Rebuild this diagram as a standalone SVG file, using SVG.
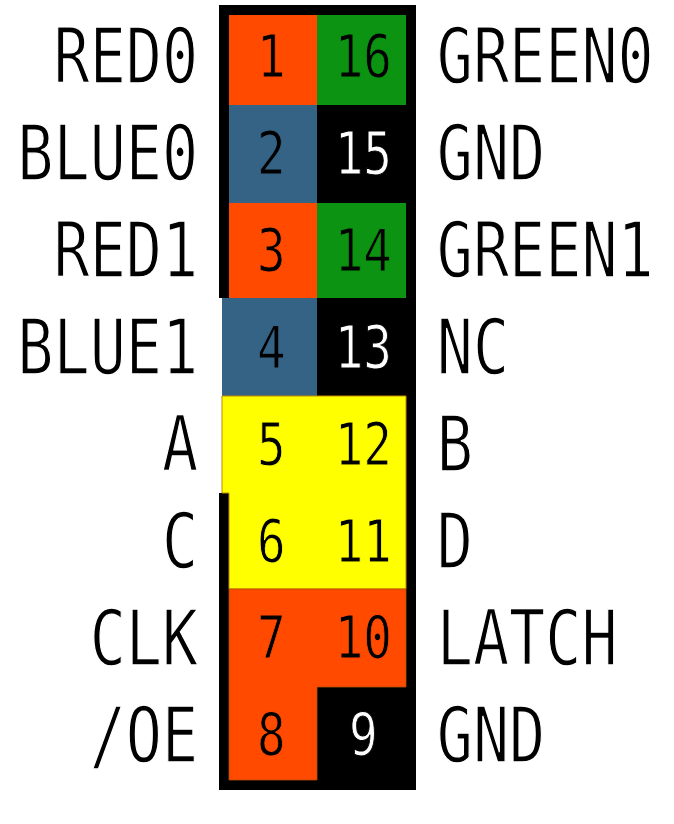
<svg xmlns="http://www.w3.org/2000/svg" width="674" height="824" viewBox="0 0 674 824">
<style>
.lbl{font-family:"DejaVu Sans Mono","Liberation Mono",monospace;font-size:77px;fill:#000;stroke:#fff;stroke-width:1.4px;}
.num{font-family:"DejaVu Sans Mono","Liberation Mono",monospace;font-size:58px;fill:#000;text-anchor:middle;stroke-width:1px;}
.w{fill:#fff;}
.l{text-anchor:end;}
.orange{fill:#ff4a00;}
.green{fill:#0b9311;}
.blue{fill:#356385;}
.yellow{fill:#ffff00;}
.so{stroke:#ff4a00;}
.sg{stroke:#0b9311;}
.sb{stroke:#356385;}
.sy{stroke:#ffff00;}
.sk{stroke:#000;}
</style>
<rect width="674" height="824" fill="#fff"/>
<g id="housing">
<rect x="219" y="5" width="197" height="785" fill="#000"/>
<rect x="218" y="298" width="4" height="195" fill="#fff"/>
</g>
<g id="cells">
<rect class="orange" x="229" y="15" width="88" height="90"/>
<rect class="green" x="317" y="15" width="89" height="90"/>
<rect class="blue" x="229" y="105" width="88" height="98"/>
<rect class="orange" x="229" y="203" width="88" height="95"/>
<rect class="green" x="317" y="203" width="89" height="95"/>
<rect class="blue" x="222" y="298" width="95" height="98"/>
<polygon class="yellow" points="222,396 406,396 406,589 229,589 229,493 222,493" stroke="#c08a00" stroke-width="1"/>
<polygon class="orange" points="229,589 406,589 406,687 317,687 317,780 229,780" stroke="#b05000" stroke-width="0.8"/>
</g>
<g id="numbers" transform="scale(0.82,1)">
<g id="pin1"><text class="num so" x="331" y="77">1</text></g>
<g id="pin16"><text class="num sg" x="443" y="77">16</text></g>
<g id="pin2"><text class="num sb" x="331" y="174">2</text></g>
<g id="pin15"><text class="num w sk" x="443" y="174">15</text></g>
<g id="pin3"><text class="num so" x="331" y="271">3</text></g>
<g id="pin14"><text class="num sg" x="443" y="271">14</text></g>
<g id="pin4"><text class="num sb" x="331" y="368">4</text></g>
<g id="pin13"><text class="num w sk" x="443" y="368">13</text></g>
<g id="pin5"><text class="num sy" x="331" y="465">5</text></g>
<g id="pin12"><text class="num sy" x="443" y="465">12</text></g>
<g id="pin6"><text class="num sy" x="331" y="562">6</text></g>
<g id="pin11"><text class="num sy" x="443" y="562">11</text></g>
<g id="pin7"><text class="num so" x="331" y="658">7</text></g>
<g id="pin10"><text class="num so" x="443" y="658">10</text></g>
<g id="pin8"><text class="num so" x="331" y="755">8</text></g>
<g id="pin9"><text class="num w sk" x="443" y="755">9</text></g>
</g>
<g id="labels-left" transform="scale(0.78,1)">
<text class="lbl l" x="254" y="83">RED0</text>
<text class="lbl l" x="254" y="180">BLUE0</text>
<text class="lbl l" x="254" y="277">RED1</text>
<text class="lbl l" x="254" y="374">BLUE1</text>
<text class="lbl l" x="254" y="471">A</text>
<text class="lbl l" x="254" y="568">C</text>
<text class="lbl l" x="254" y="665">CLK</text>
<text class="lbl l" x="254" y="762">/OE</text>
</g>
<g id="labels-right" transform="scale(0.78,1)">
<text class="lbl" x="560" y="83">GREEN0</text>
<text class="lbl" x="560" y="180">GND</text>
<text class="lbl" x="560" y="277">GREEN1</text>
<text class="lbl" x="560" y="374">NC</text>
<text class="lbl" x="560" y="471">B</text>
<text class="lbl" x="560" y="568">D</text>
<text class="lbl" x="560" y="665">LATCH</text>
<text class="lbl" x="560" y="762">GND</text>
</g>
<g id="connectors"/>
</svg>
